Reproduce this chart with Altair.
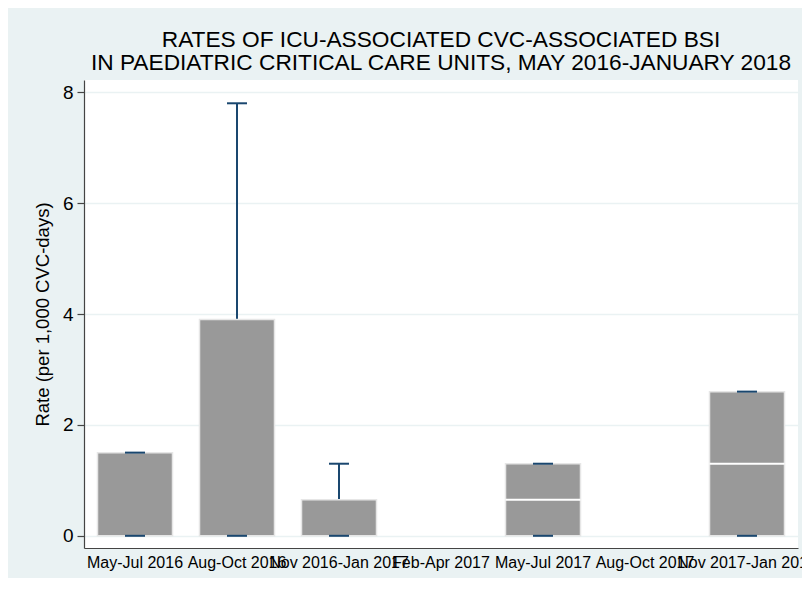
import altair as alt
import pandas as pd

categories = ["May-Jul 2016", "Aug-Oct 2016", "Nov 2016-Jan 2017", "Feb-Apr 2017",
              "May-Jul 2017", "Aug-Oct 2017", "Nov 2017-Jan 2018"]
periods = ["May-Jul 2016", "Aug-Oct 2016", "Nov 2016-Jan 2017", "May-Jul 2017", "Nov 2017-Jan 2018"]
lower_adj = [0, 0, 0, 0, 0]
q1 = [0, 0, 0, 0, 0]
median = [0, 0, 0, 0.65, 1.3]
q3 = [1.5, 3.9, 0.65, 1.3, 2.6]
upper_adj = [1.5, 7.8, 1.3, 1.3, 2.6]
y_ticks = [0, 2, 4, 6, 8]

df = pd.DataFrame({"period": periods, "lower": lower_adj, "q1": q1,
                   "median": median, "q3": q3, "upper": upper_adj})

FONT = "Liberation Sans"
NAVY = "#1a476f"

x = alt.X("period:N",
          scale=alt.Scale(domain=categories, paddingInner=0.265, paddingOuter=0.1325),
          axis=alt.Axis(title=None, labelAngle=0, labelOverlap=False, ticks=False,
                        labelFontSize=16, labelPadding=6, labelFont=FONT,
                        labelColor="black", domainColor="#444444", domainWidth=1.2,
                        grid=False, labelLimit=0))
yscale = alt.Scale(domain=[-0.22, 8.22], nice=False, zero=False)
yaxis = alt.Axis(values=y_ticks, format="d", title="Rate (per 1,000 CVC-days)",
                 titleFontSize=18.5, titleFontWeight="normal", titleFont=FONT,
                 titleColor="black", titlePadding=10, labelFontSize=19, labelFont=FONT,
                 labelColor="black", labelPadding=4, tickSize=7, tickColor="#444444",
                 tickWidth=1.2, domainColor="#444444", domainWidth=1.2,
                 gridColor="#EAF2F3", gridWidth=1.5)

base = alt.Chart(df)

whisk_up = base.mark_rule(color=NAVY, strokeWidth=2).encode(
    x=x, y=alt.Y("q3:Q", scale=yscale, axis=yaxis), y2="upper:Q")
whisk_low = base.mark_rule(color=NAVY, strokeWidth=2).encode(
    x=x, y=alt.Y("lower:Q", scale=yscale), y2="q1:Q")
box = base.mark_bar(color="#999999", stroke="#e6e6e6", strokeWidth=1.5).encode(
    x=x, y=alt.Y("q1:Q", scale=yscale), y2="q3:Q")
med = base.transform_filter("datum.median > datum.q1").mark_tick(
    color="white", thickness=2, size=75, opacity=1).encode(
    x=x, y=alt.Y("median:Q", scale=yscale))
cap_up = base.mark_tick(color=NAVY, thickness=2, size=20, opacity=1).encode(
    x=x, y=alt.Y("upper:Q", scale=yscale))
cap_low = base.mark_tick(color=NAVY, thickness=2, size=20, opacity=1).encode(
    x=x, y=alt.Y("lower:Q", scale=yscale))

chart = alt.layer(whisk_up, whisk_low, box, med, cap_up, cap_low).properties(
    width=714, height=468,
    autosize=alt.AutoSizeParams(type="none"),
    padding={"left": 76, "top": 72, "right": 4, "bottom": 30},
    background="#EAF2F3",
    title=alt.Title(["RATES OF ICU-ASSOCIATED CVC-ASSOCIATED BSI",
                     "IN PAEDIATRIC CRITICAL CARE UNITS, MAY 2016-JANUARY 2018"],
                    fontSize=22.7, font=FONT, fontWeight="normal", color="black",
                    lineHeight=23, anchor="middle", offset=5),
).configure_view(fill="white", stroke=None)

chart.save("out.html", embed_options={"renderer": "svg", "actions": False})
